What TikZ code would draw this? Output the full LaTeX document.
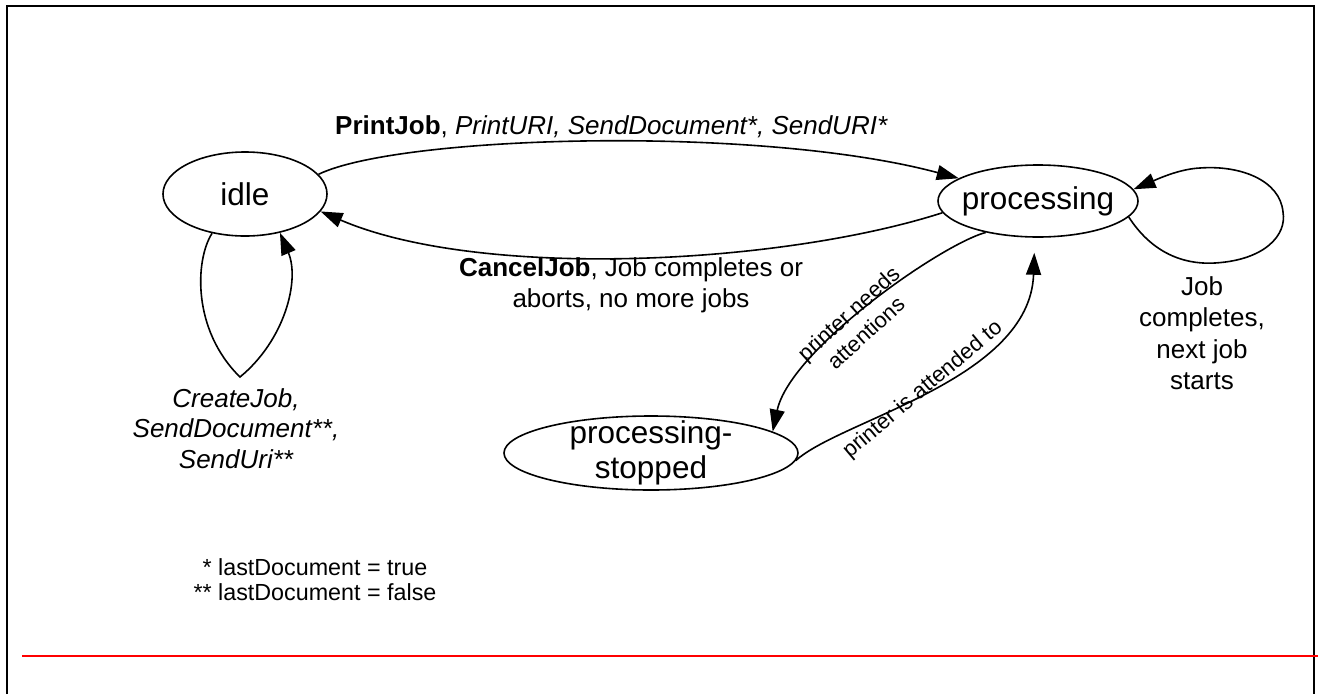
\documentclass[tikz,border=0pt]{standalone}
\usepackage{fontspec}
\setmainfont{Liberation Sans}
\usetikzlibrary{arrows.meta,shapes.geometric}
\begin{document}
\begin{tikzpicture}[x=1pt,y=-1pt,
  state/.style={draw, ellipse, line width=1.6pt, inner sep=0pt},
  statetext/.style={font=\fontsize{31.5}{35}\selectfont, align=center, inner sep=0pt},
  trans/.style={draw, line width=1.6pt, -{Triangle[length=22pt,width=15pt]}},
  lbl/.style={font=\fontsize{26}{31.5}\selectfont, inner sep=0pt},
  note/.style={font=\fontsize{23.3}{25}\selectfont, align=center, inner sep=0pt},
  slanted/.style={font=\fontsize{22}{26}\selectfont, align=center, inner sep=0pt},
]
\useasboundingbox (0,0) rectangle (1323,694);

% page frame and rule
\draw[line width=2.2pt] (7,694) -- (7,6) -- (1314,6) -- (1314,694);
\draw[red, line width=2pt] (22,656) -- (1318,656);

% states
\node[state, minimum width=164pt, minimum height=84pt] (idle) at (245,194) {};
\node[statetext] (idletext) at (idle.center) {idle};
\node[state, minimum width=200pt, minimum height=72pt] (proc) at (1038,201) {};
\node[statetext] (proctext) at (proc.center) {processing};
\node[state, minimum width=294pt, minimum height=74pt] (stopped) at (651,453) {};
\node[statetext] (stoppedtext) at (stopped.center) {processing-\\stopped};

% transitions
\draw[trans] (idle.15) .. controls (400,135) and (760,125) .. (proc.164);
\draw[trans] (proc.187) .. controls (780,265) and (480,280) .. (idle.-13);
\draw[trans] (idle.-130) .. controls (195,260) and (192,330) .. (240,377)
  .. controls (285,340) and (300,280) .. (idle.-48);
\draw[trans] (proc.-10) .. controls (1150,250) and (1180,265) .. (1215,263)
  .. controls (1265,260) and (1287,235) .. (1283,212)
  .. controls (1280,180) and (1240,165) .. (1200,168)
  .. controls (1180,169) and (1160,178) .. (proc.7);
\draw[trans] (proc.-149) .. controls (940,245) and (790,350) .. (stopped.10);
\draw[trans, shorten >=15pt] (stopped.-3) .. controls (840,420) and (1030,380) .. (proc.-95);

% transition labels
\node[lbl, anchor=base west] (ltop) at (335,134)
  {\textbf{PrintJob}, \textit{PrintURI, SendDocument*, SendURI*}};
\node[lbl, align=center, anchor=north] (lcancel) at (631,257)
  {\textbf{CancelJob}, Job completes or\\aborts, no more jobs};
\node[lbl, align=center, anchor=north] (lnext) at (1202,276)
  {Job\\completes,\\next job\\starts};
\node[lbl, align=center, anchor=north, font=\fontsize{26}{30.5}\selectfont\itshape] (lcreate) at (236,388)
  {CreateJob,\\SendDocument**,\\SendUri**};
\node[slanted, rotate=42] (lneeds) at (857,323) {printer needs\\attentions};
\node[slanted, rotate=40] (lattend) at (923,390) {printer is attended to};

% footnotes
\node[note, anchor=north] (notes) at (315,558)
  {* lastDocument = true\\** lastDocument = false};
\end{tikzpicture}
\end{document}
